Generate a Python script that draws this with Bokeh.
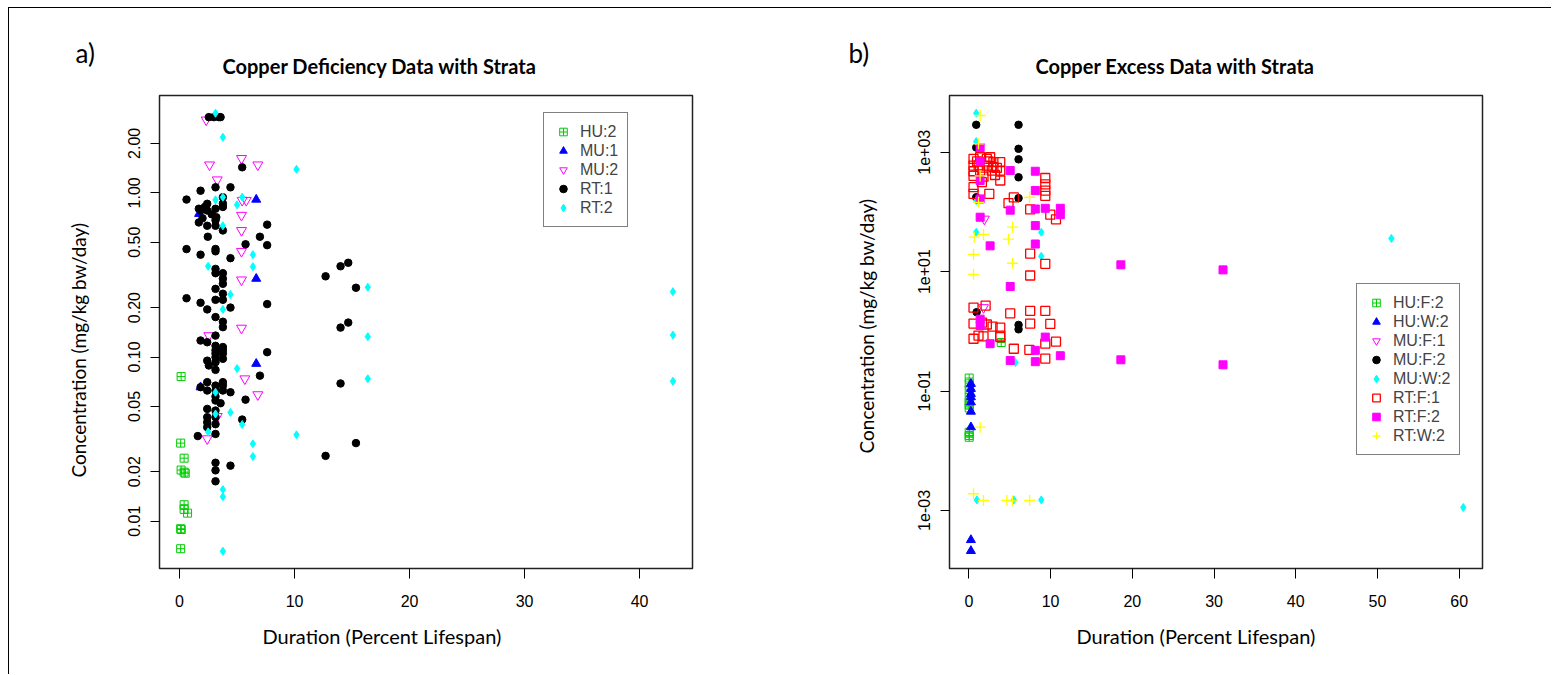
import math
from bokeh.plotting import figure
from bokeh.layouts import row
from bokeh.models import (Range1d, FixedTicker, PrintfTickFormatter, CustomJSTickFormatter,
                          Legend, LegendItem, Title, ColumnDataSource)
from bokeh.embed import file_html
from bokeh.resources import INLINE

# ---------------- Panel a) Copper deficiency ----------------
a_HU2_x = [0.14, 0.1, 0.4, 0.14, 0.4, 0.5, 0.4, 0.4, 0.7, 0.1, 0.15, 0.1]
a_HU2_y = [0.076, 0.0299, 0.0242, 0.0205, 0.0199, 0.0196, 0.0126, 0.0118, 0.0112, 0.009, 0.0089, 0.0068]

a_MU1_x = [6.67, 1.7, 6.67, 6.67, 1.83]
a_MU1_y = [0.91, 0.745, 0.30, 0.091, 0.0655]

a_MU2_x = [2.32, 2.61, 5.39, 6.81, 3.28, 5.45, 5.8, 5.39, 5.39, 5.39, 5.39, 5.39, 2.55, 5.68, 6.81, 3.28, 2.41]
a_MU2_y = [2.78, 1.48, 1.62, 1.48, 1.2, 0.90, 0.90, 0.73, 0.59, 0.44, 0.295, 0.15, 0.135, 0.0737, 0.059, 0.0435, 0.0318]

a_RT1_x = [2.55, 2.98, 3.42, 3.57, 5.45, 1.83, 3.13, 4.43, 0.61, 3.77,
           1.68, 2.41, 2.2, 1.83, 2.41, 3.13, 3.77, 3.2, 1.68, 2.41, 3.13, 3.77, 3.13, 2.0, 2.8, 3.77,
           7.62, 2.46, 6.99, 5.74, 7.62, 0.61, 3.13, 3.13, 1.83, 4.43,
           3.13, 3.13, 3.77, 3.77, 3.77, 3.13, 3.77, 0.61, 3.13, 3.77, 1.83, 4.43, 2.41, 7.62, 3.13, 3.77, 3.77,
           3.13, 1.83, 2.41, 3.13, 3.77, 3.13, 3.77, 3.13, 3.77, 3.13, 3.77, 2.41, 3.13, 2.55, 3.13, 7.62, 6.99,
           2.41, 3.13, 3.77, 3.77, 1.83, 2.41, 3.13, 3.77, 4.43, 3.13, 3.13, 3.57, 5.74, 2.41, 3.13, 2.41, 3.13,
           5.45, 2.41, 3.13, 2.41, 3.13, 1.59, 3.13, 4.43, 3.13, 3.13,
           14.0, 14.67, 12.7, 15.34, 14.0, 14.67, 14.0, 15.34, 12.7]
a_RT1_y = [2.89, 2.89, 2.89, 2.89, 1.43, 1.03, 1.08, 1.08, 0.91, 0.94,
           0.80, 0.857, 0.82, 0.78, 0.78, 0.80, 0.82, 0.71, 0.66, 0.63, 0.63, 0.59, 0.68, 0.70, 0.74, 0.86,
           0.64, 0.54, 0.54, 0.486, 0.48, 0.454, 0.455, 0.44, 0.42, 0.40,
           0.344, 0.324, 0.324, 0.30, 0.279, 0.26, 0.243, 0.228, 0.223, 0.223, 0.214, 0.20, 0.195, 0.21, 0.175, 0.164, 0.152,
           0.135, 0.126, 0.123, 0.117, 0.115, 0.110, 0.110, 0.105, 0.105, 0.0997, 0.0975, 0.095, 0.093, 0.0888, 0.0835, 0.107, 0.077,
           0.0703, 0.067, 0.0703, 0.067, 0.0655, 0.0625, 0.0625, 0.0625, 0.061, 0.0575, 0.0543, 0.0523, 0.055, 0.0483, 0.0472, 0.043, 0.043,
           0.0416, 0.040, 0.039, 0.0374, 0.034, 0.033, 0.0227, 0.0218, 0.0204, 0.0175,
           0.357, 0.375, 0.31, 0.264, 0.151, 0.162, 0.069, 0.0299, 0.025]

a_RT2_x = [3.13, 3.77, 10.17, 3.13, 3.77, 5.45, 5.0, 3.77, 6.38, 2.49, 6.38, 4.43, 3.77, 5.0, 3.13, 3.13,
           4.43, 5.45, 2.49, 10.17, 6.38, 6.38, 3.77, 3.77, 3.77, 16.37, 16.37, 16.37, 42.9, 42.9, 42.9]
a_RT2_y = [3.05, 2.18, 1.39, 0.906, 0.94, 0.94, 0.845, 0.63, 0.42, 0.357, 0.355, 0.24, 0.195, 0.085, 0.061, 0.045,
           0.046, 0.0388, 0.035, 0.0336, 0.0296, 0.0248, 0.0156, 0.0141, 0.00657, 0.266, 0.133, 0.0737, 0.25, 0.136, 0.0712]

a_xticks = [0, 10, 20, 30, 40]
a_yticks = [0.01, 0.02, 0.05, 0.1, 0.2, 0.5, 1, 2]

# ---------------- Panel b) Copper excess ----------------
b_HUF2_x = [3.96, 0.04, 0.04, 0.04, 0.04, 0.04, 0.04, 0.04, 0.04, 0.04, 0.04]
b_HUF2_y = [0.65, 0.165, 0.132, 0.105, 0.079, 0.065, 0.058, 0.052, 0.0204, 0.018, 0.0168]

b_HUW2_x = [0.25, 0.25, 0.25, 0.25, 0.25, 0.25, 0.25, 0.25, 0.25]
b_HUW2_y = [0.132, 0.109, 0.0898, 0.079, 0.065, 0.0453, 0.0248, 0.00032, 0.00021]

b_MUF1_x = [1.9, 1.79]
b_MUF1_y = [76, 2.5]

b_MUF2_x = [0.9, 6.08, 0.9, 6.08, 6.08, 6.08, 0.9, 6.08, 0.95, 6.08, 6.08]
b_MUF2_y = [2880, 2880, 1200, 1140, 760, 380, 176, 170, 2.09, 1.28, 1.08]

b_MUW2_x = [0.9, 0.9, 0.9, 0.9, 8.86, 8.86, 5.7, 0.98, 5.5, 8.86, 51.7, 60.5]
b_MUW2_y = [4500, 1510, 155, 45.7, 45.7, 18.1, 0.30, 0.0015, 0.0015, 0.0015, 36, 0.00112]

b_RTF1_x = [0.57, 0.57, 0.57, 0.57, 0.57, 0.57, 1.38, 1.38, 1.59, 1.79, 2.2, 2.2, 2.6, 2.8, 3.0, 3.2, 3.43,
            3.84, 3.84, 3.84, 2.5, 1.0, 1.2, 2.4, 3.0,
            4.85, 5.5, 7.5, 9.35, 9.35, 9.35, 9.35, 9.96, 10.66, 7.5, 9.35, 7.5,
            0.57, 2.05, 5.06, 7.5, 9.35, 0.57, 1.6, 2.2, 2.9, 3.84, 0.57, 1.18, 1.79, 3.84, 7.5, 9.96, 10.66,
            3.84, 5.5, 7.4, 9.35, 9.35]
b_RTF1_y = [773, 598, 480, 400, 260, 200, 824, 493, 315, 390, 773, 598, 824, 493, 680, 415, 545,
            680, 493, 336, 200, 700, 600, 700, 560,
            140, 175, 110, 370, 290, 228, 186, 90, 75, 20, 13.5, 8.6,
            2.5, 2.7, 2.0, 2.2, 2.2, 1.35, 1.4, 1.3, 1.2, 1.15, 0.75, 0.85, 0.82, 0.8, 1.35, 1.33, 0.67,
            0.85, 0.51, 0.49, 0.62, 0.35]

b_RTF2_x = [1.38, 1.38, 1.38, 1.38, 1.38, 2.6, 5.06, 5.06, 5.06, 8.13, 8.13, 8.13, 8.13, 8.13, 9.35, 11.19, 11.19,
            1.38, 1.38, 2.6, 9.35, 8.13, 8.13, 5.06, 11.19, 18.6, 31.1, 18.6, 31.1]
b_RTF2_y = [1200, 700, 336, 165, 81.5, 27, 493, 107, 5.63, 480, 228, 112, 59, 29, 115, 115, 90,
            1.6, 1.25, 0.62, 0.8, 0.48, 0.31, 0.325, 0.39, 13, 10.7, 0.333, 0.275]

b_RTW2_x = [1.38, 1.18, 1.38, 1.18, 7.43, 5.35, 0.65, 1.79, 4.85, 0.57, 5.35, 0.57, 1.38, 0.57, 1.79, 4.65, 5.35, 7.43]
b_RTW2_y = [4120, 1380, 400, 145, 176, 55.5, 37.7, 41.9, 35, 19.5, 13.8, 9, 0.0248, 0.0019, 0.00147, 0.00147, 0.00145, 0.00147]

b_xticks = [0, 10, 20, 30, 40, 50, 60]
b_yticks = [1e-3, 1e-1, 1e1, 1e3]

# ---------------- styling helpers ----------------
SANS = "Liberation Sans"
LATO = "Lato"
H = 666
FT, FB = 87, 473          # frame top offset (within figure) / frame height


def make_fig(width, left, frame_w, xr, yr, xticks, yticks, yfmt):
    p = figure(width=width, height=H, x_range=Range1d(*xr), y_range=Range1d(*yr),
               y_axis_type="log", output_backend="svg", toolbar_location=None,
               min_border_left=left, min_border_right=width - left - frame_w,
               min_border_top=FT, min_border_bottom=H - FT - FB)
    p.xgrid.visible = False
    p.ygrid.visible = False
    p.outline_line_color = "#222222"
    p.outline_line_width = 1.5
    p.background_fill_color = "white"
    p.border_fill_color = "white"
    for ax in (p.xaxis[0], p.yaxis[0]):
        ax.axis_line_color = None
        ax.major_tick_line_color = "black"
        ax.major_tick_line_width = 1
        ax.major_tick_in = 0
        ax.minor_tick_line_color = None
        ax.major_label_text_font = SANS
        ax.major_label_text_font_size = "16px"
        ax.major_label_text_color = "black"
    p.xaxis.ticker = FixedTicker(ticks=xticks, minor_ticks=[])
    p.yaxis.ticker = FixedTicker(ticks=yticks, minor_ticks=[])
    p.xaxis.major_tick_out = 10
    p.xaxis.major_label_standoff = 16
    p.yaxis.major_tick_out = 9
    p.yaxis.major_label_standoff = 10
    p.yaxis.major_label_orientation = "vertical"
    p.yaxis.formatter = yfmt
    return p


def add_texts(p, tag, title, title_off, tag_off, xlab_off, ylab_off, ylab_standoff):
    p.add_layout(Title(text=title, align="left", offset=title_off, standoff=36,
                       text_font=LATO, text_font_size="20px", text_font_style="bold",
                       text_color="black"), "above")
    p.add_layout(Title(text=tag, align="left", offset=tag_off, standoff=-70,
                       text_font=LATO, text_font_size="26px", text_font_style="normal",
                       text_color="black"), "above")
    p.add_layout(Title(text="Duration (Percent Lifespan)", align="left", offset=xlab_off, standoff=24,
                       text_font=LATO, text_font_size="20px", text_font_style="normal",
                       text_color="black"), "below")
    p.add_layout(Title(text="Concentration (mg/kg bw/day)", align="left", offset=ylab_off,
                       standoff=ylab_standoff, text_font=LATO, text_font_size="19px",
                       text_font_style="normal", text_color="black"), "left")


def add_series(p, x, y, marker, color, size, fill=True, lw=1.0):
    src = ColumnDataSource(dict(x=x, y=y))
    return p.scatter("x", "y", source=src, marker=marker, size=size,
                     line_color=color, line_width=lw,
                     fill_color=color if fill else None, fill_alpha=1.0 if fill else 0)


def add_legend(p, items, loc):
    leg = Legend(items=[LegendItem(label=l, renderers=[r]) for l, r in items], location=loc,
                 padding=9, spacing=0, glyph_width=20, glyph_height=19, label_height=19,
                 label_standoff=7, label_text_font=SANS, label_text_font_size="16px",
                 border_line_color="black", border_line_width=1, background_fill_color="white",
                 background_fill_alpha=1.0, margin=0)
    p.add_layout(leg)


GREEN, BLUE, MAG, CYAN, RED, YEL = "#00CC00", "#0000FF", "#FF00FF", "#00FFFF", "#FF0000", "#FFFF00"

# ---------------- figure a ----------------
a_xr = (-1.74, 44.6)
a_yr = (10 ** -2.288, 10 ** 0.5926)
pa = make_fig(771, 150, 533, a_xr, a_yr, a_xticks, a_yticks, PrintfTickFormatter(format="%.2f"))
r1 = add_series(pa, a_HU2_x, a_HU2_y, "square_cross", GREEN, 8, fill=False)
r2 = add_series(pa, a_MU1_x, a_MU1_y, "triangle", BLUE, 9)
r3 = add_series(pa, a_MU2_x, a_MU2_y, "inverted_triangle", MAG, 10, fill=False)
r4 = add_series(pa, a_RT1_x, a_RT1_y, "circle", "black", 7.5)
r5 = add_series(pa, a_RT2_x, a_RT2_y, "diamond", CYAN, 8)
add_legend(pa, [("HU:2", r1), ("MU:1", r2), ("MU:2", r3), ("RT:1", r4), ("RT:2", r5)], (384, 341))
add_texts(pa, "a)", "Copper Deficiency Data with Strata", 63, -84, 103, 91, 71)

# ---------------- figure b ----------------
b_xr = (-2.37, 62.85)
b_yr = (10 ** -3.973, 10 ** 3.95)
bfmt = CustomJSTickFormatter(code="""
const e = Math.round(Math.log10(tick));
const s = e < 0 ? "-" : "+";
const a = Math.abs(e);
return "1e" + s + (a < 10 ? "0" + a : "" + a);
""")
pb = make_fig(771, 169, 533, b_xr, b_yr, b_xticks, b_yticks, bfmt)
s1 = add_series(pb, b_HUF2_x, b_HUF2_y, "square_cross", GREEN, 8, fill=False)
s2 = add_series(pb, b_HUW2_x, b_HUW2_y, "triangle", BLUE, 9)
s3 = add_series(pb, b_MUF1_x, b_MUF1_y, "inverted_triangle", MAG, 10, fill=False)
s4 = add_series(pb, b_MUF2_x, b_MUF2_y, "circle", "black", 7.5)
s5 = add_series(pb, b_MUW2_x, b_MUW2_y, "diamond", CYAN, 8)
s6 = add_series(pb, b_RTF1_x, b_RTF1_y, "square", RED, 9, fill=False, lw=1.3)
s7 = add_series(pb, b_RTF2_x, b_RTF2_y, "square", MAG, 8)
s8 = add_series(pb, b_RTW2_x, b_RTW2_y, "cross", YEL, 11, lw=1.3)
add_legend(pb, [("HU:F:2", s1), ("HU:W:2", s2), ("MU:F:1", s3), ("MU:F:2", s4), ("MU:W:2", s5),
                ("RT:F:1", s6), ("RT:F:2", s7), ("RT:W:2", s8)], (407, 113))
add_texts(pb, "b)", "Copper Excess Data with Strata", 86, -101, 127, 115, 76)

layout = row(pa, pb, styles={"margin-left": "8px", "margin-top": "7px",
                             "border-top": "1px solid #000000", "border-left": "1px solid #000000"})

with open("out.html", "w") as f:
    f.write(file_html(layout, INLINE))
